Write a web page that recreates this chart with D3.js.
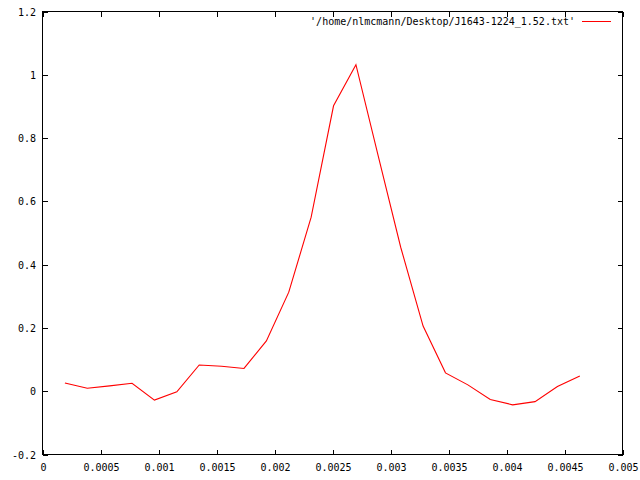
<!DOCTYPE html>
<html><head><meta charset="utf-8">
<script src="https://cdn.jsdelivr.net/npm/d3@7"></script>
<style>body{margin:0;background:#fff}svg{display:block}text{font-family:"DejaVu Sans Mono",monospace;font-size:10px;fill:#000}</style>
</head><body>
<script>
const xValues = [0.000193,0.000386,0.000579,0.000772,0.000965,0.001158,0.001351,0.001544,0.001737,0.00193,0.002123,0.002316,0.002509,0.002702,0.002895,0.003088,0.003281,0.003474,0.003667,0.00386,0.004053,0.004246,0.004439,0.004632];
const yValues = [0.026,0.0095,0.017,0.025,-0.028,-0.002,0.083,0.079,0.072,0.159,0.313,0.55,0.902,1.032,0.742,0.455,0.206,0.058,0.02,-0.026,-0.043,-0.033,0.015,0.048];
const xTicks = [0,0.0005,0.001,0.0015,0.002,0.0025,0.003,0.0035,0.004,0.0045,0.005];
const xTickLabels = ["0","0.0005","0.001","0.0015","0.002","0.0025","0.003","0.0035","0.004","0.0045","0.005"];
const yTicks = [-0.2,0,0.2,0.4,0.6,0.8,1,1.2];
const yTickLabels = ["-0.2","0","0.2","0.4","0.6","0.8","1","1.2"];
const legendLabel = "'/home/nlmcmann/Desktop/J1643-1224_1.52.txt'";

const W=640,H=480,L=42.5,R=622.5,T=11.5,B=454.5;
const svg=d3.select("body").append("svg").attr("width",W).attr("height",H);
const x=d3.scaleLinear().domain([0,0.005]).range([L,R]);
const y=d3.scaleLinear().domain([-0.2,1.2]).range([B,T]);
const tl=5;
const g=svg.append("g");
g.append("rect").attr("x",L).attr("y",T).attr("width",R-L).attr("height",B-T).attr("fill","none").attr("stroke","#000").attr("stroke-width",1).attr("shape-rendering","crispEdges");
xTicks.forEach((v,i)=>{
  const px=Math.round(x(v))+0.5;
  g.append("line").attr("x1",px).attr("x2",px).attr("y1",B).attr("y2",B-tl).attr("stroke","#000").attr("shape-rendering","crispEdges");
  g.append("line").attr("x1",px).attr("x2",px).attr("y1",T).attr("y2",T+tl).attr("stroke","#000").attr("shape-rendering","crispEdges");
  g.append("text").attr("x",px).attr("y",471).attr("text-anchor","middle").text(xTickLabels[i]);
});
yTicks.forEach((v,i)=>{
  const py=Math.round(y(v))+0.5;
  g.append("line").attr("x1",L).attr("x2",L+tl).attr("y1",py).attr("y2",py).attr("stroke","#000").attr("shape-rendering","crispEdges");
  g.append("line").attr("x1",R).attr("x2",R-tl).attr("y1",py).attr("y2",py).attr("stroke","#000").attr("shape-rendering","crispEdges");
  g.append("text").attr("x",36).attr("y",py+3.5).attr("text-anchor","end").text(yTickLabels[i]);
});
const data=xValues.map((v,i)=>[v,yValues[i]]);
svg.append("path").datum(data).attr("d",d3.line().x(d=>x(d[0])).y(d=>y(d[1])))
  .attr("fill","none").attr("stroke","#ff0000").attr("stroke-width",1.1);
svg.append("text").attr("x",575).attr("y",25).attr("text-anchor","end").text(legendLabel);
svg.append("line").attr("x1",582).attr("x2",611).attr("y1",21.5).attr("y2",21.5).attr("stroke","#ff0000");
</script>
</body></html>
